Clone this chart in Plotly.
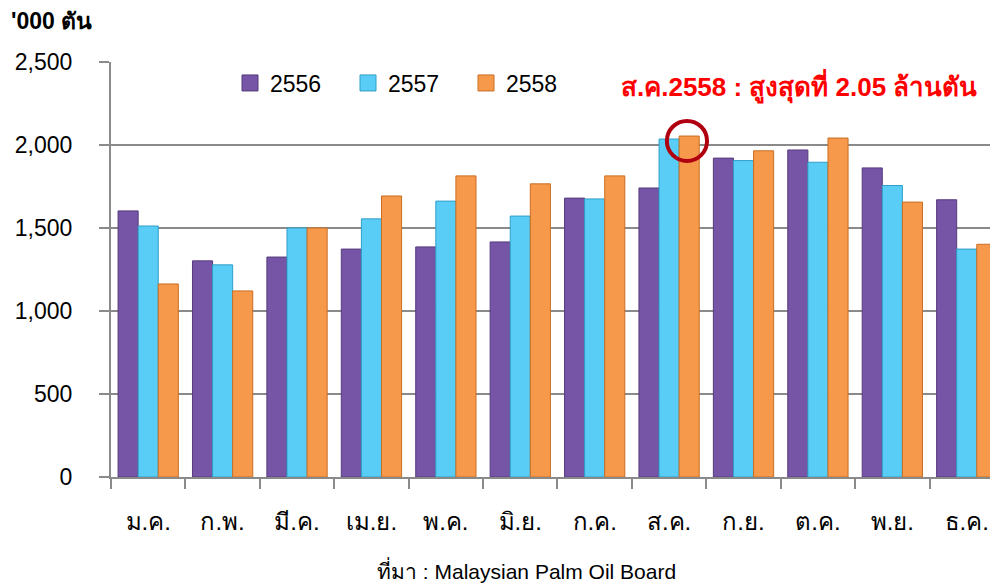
import plotly.graph_objects as go

months = ["ม.ค.", "ก.พ.", "มี.ค.", "เม.ย.", "พ.ค.", "มิ.ย.",
          "ก.ค.", "ส.ค.", "ก.ย.", "ต.ค.", "พ.ย.", "ธ.ค."]
y2556 = [1603, 1302, 1325, 1373, 1386, 1416, 1680, 1741, 1921, 1970, 1862, 1670]
y2557 = [1512, 1278, 1500, 1555, 1662, 1572, 1675, 2036, 1906, 1896, 1756, 1373]
y2558 = [1163, 1121, 1500, 1693, 1814, 1766, 1814, 2054, 1965, 2042, 1656, 1402]

series = [
    ("2556", y2556, "#7755A6", "#553a7e"),
    ("2557", y2557, "#5ACDF6", "#2f9fc8"),
    ("2558", y2558, "#F7994A", "#c86e24"),
]

# page has an 8px body margin, so the figure is drawn 8px in from the corner
W, H = 990, 576
L, T, B = 103, 54, 107
PW, PH = W - L, H - T - B


def px(x):
    return (x - 8 - L) / PW


def py(y):
    return (H - B - (y - 8)) / PH


fig = go.Figure()
for name, vals, col, edge in series:
    fig.add_trace(go.Bar(
        x=months, y=vals, name=name, showlegend=False,
        marker=dict(color=col, line=dict(color=edge, width=1)),
    ))
# legend keys (bigger squares than plotly's bar icon)
for name, vals, col, edge in series:
    fig.add_trace(go.Scatter(
        x=[None], y=[None], name=name, mode="markers",
        marker=dict(symbol="square", size=22, color=col, line=dict(color=edge, width=1)),
    ))

fig.update_layout(
    width=W, height=H,
    margin=dict(l=L, r=0, t=T, b=B),
    paper_bgcolor="white", plot_bgcolor="white",
    font=dict(family="Liberation Sans, Arial, sans-serif", size=23, color="black"),
    barmode="group", bargap=0.19, bargroupgap=0,
    showlegend=True,
    legend=dict(orientation="h", x=px(230), y=py(83), xanchor="left", yanchor="middle",
                font=dict(size=23), bgcolor="rgba(0,0,0,0)",
                itemwidth=30, entrywidth=73, entrywidthmode="pixels"),
)

fig.update_yaxes(
    range=[0, 2500], dtick=500, tickformat=",",
    showgrid=True, gridcolor="#8a8a8a", gridwidth=1.5,
    showline=True, linecolor="#8a8a8a", linewidth=2,
    ticks="outside", ticklen=10, tickcolor="#8a8a8a", tickwidth=1.5,
    ticklabelstandoff=22, zeroline=False,
)
fig.update_xaxes(
    range=[-0.5, 11.42],
    showline=True, linecolor="#8a8a8a", linewidth=2,
    ticks="outside", tickson="boundaries", ticklen=10,
    tickcolor="#8a8a8a", tickwidth=1.5,
    ticklabelstandoff=22, tickfont=dict(size=24),
)

# y-axis unit
fig.add_annotation(text="<b>'000 ตัน</b>", xref="paper", yref="paper",
                   x=px(9), y=py(21), xanchor="left",
                   yanchor="middle", showarrow=False, font=dict(size=23))

# peak label
fig.add_annotation(text="<b>ส.ค.2558 : สูงสุดที่ 2.05 ล้านตัน</b>", xref="paper", yref="paper",
                   x=px(979), y=py(86),
                   xanchor="right", yanchor="middle", showarrow=False,
                   font=dict(size=26, color="#FF0000"))

# circle around Aug 2558
fig.add_shape(type="circle", xref="x", yref="y",
              x0=6.97, x1=7.51, y0=1904, y1=2145,
              line=dict(color="#B00010", width=4))

# source
fig.add_annotation(text="ที่มา : Malaysian Palm Oil Board", xref="paper", yref="paper",
                   x=px(526), y=py(570),
                   xanchor="center", yanchor="middle", showarrow=False,
                   font=dict(size=21))

fig.write_html("out.html")
